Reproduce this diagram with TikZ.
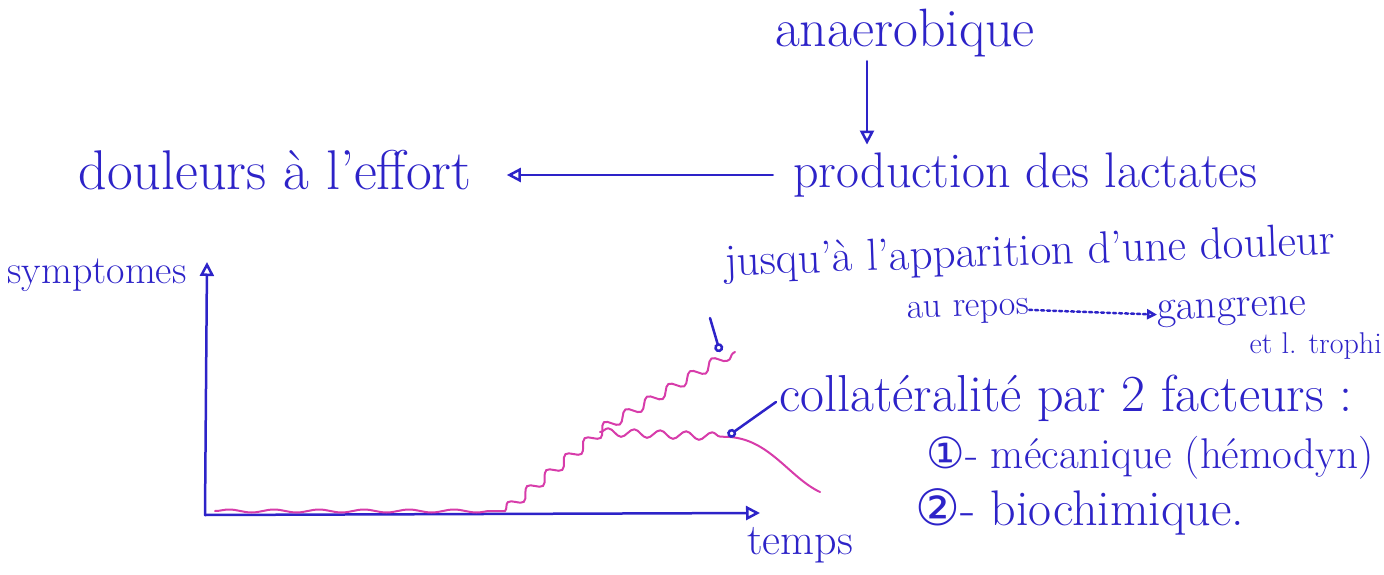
\documentclass[tikz,border=0pt]{standalone}
\usepackage{fontspec}
\newfontfamily\symfont{DejaVu Sans}
\usetikzlibrary{arrows.meta,decorations.pathmorphing}
\definecolor{stylo}{RGB}{45,35,200}
\definecolor{rose}{RGB}{215,60,170}
\tikzset{
  txt/.style={text=stylo, font=\fontsize{#1}{#1}\selectfont, inner sep=0pt},
  txt/.default=40,
  trait/.style={draw=stylo, line width=2.5pt, line cap=round},
  fleche/.style={trait, -{Triangle[open, length=14pt, width=14pt]}},
  repere/.style={trait, -{Circle[open, length=9pt]}},
  courbe/.style={draw=rose, line width=2pt, line cap=round},
}
\begin{document}
\begin{tikzpicture}[x=1pt,y=-1pt]
	\useasboundingbox (0,0) rectangle (1384,575);
	% Chaine du haut
	\node[txt=54] (anaer) at (905,33) {anaerobique};
	\node[txt=50] (prod) at (1025,175) {production des lactates};
	\node[txt=56] (doul) at (275,170) {douleurs à l'effort};
	\draw[fleche, shorten <=4pt, shorten >=8pt] (anaer.south -| 867,0) -- (prod.north -| 867,0);
	\draw[fleche, shorten <=20pt, shorten >=35pt] (prod.west) -- (doul.east |- prod.west);
	
	% Repere
	\coordinate (O) at (205,515);
	\coordinate (ytop) at (207,262);
	\coordinate (xend) at (760,513);
	\draw[fleche] (O) -- (ytop);
	\draw[fleche] (O) -- (xend);
	\node[txt] (sympt) at (97,275) {symptomes};
	\node[txt=44] (temps) at (800,545) {temps};
	
	% Courbes
	\coordinate (debut) at (215,511);
	\coordinate (depart) at (505,511);
	\coordinate (bif) at (600,432);
	\coordinate (pic) at (735,352);
	\coordinate (plateau) at (730,437);
	\coordinate (fin) at (820,492);
	\draw[courbe, decorate, decoration={snake, amplitude=1.5pt, segment length=45pt}] (debut) -- (depart);
	\draw[courbe, decorate, decoration={snake, amplitude=5pt, segment length=25pt}] (depart) -- (bif) -- (pic);
	\draw[courbe, decorate, decoration={snake, amplitude=4pt, segment length=26pt}] (bif) -- (plateau);
	\draw[courbe] (plateau) .. controls (770,440) and (790,478) .. (fin);
	
	% Annotations
	\node[txt=45, rotate=2] (jusqua) at (1030,254) {jusqu'à l'apparition d'une douleur};
	\node[txt=36, rotate=2] (repos) at (968,312) {au repos};
	\node[txt=42, rotate=2] (gang) at (1232,312) {gangrene};
	\node[txt=30, anchor=east] (troph) at (1382,346) {et l. trophi};
	\draw[trait, dashed, -{Triangle[open, length=10pt, width=10pt]}] (repos.east) -- (gang.west);
	\coordinate (l1) at (710,318);
	\coordinate (c1) at (720,352);
	\draw[repere] (l1) -- (c1);
	\node[txt=52] (collat) at (1066,398) {collatéralité par 2 facteurs :};
	\coordinate (l2) at (776,402);
	\coordinate (c2) at (728,436);
	\draw[repere] (l2) -- (c2);
	\node[txt=43] (meca) at (1150,458) {{\symfont ①}- mécanique (hémodyn)};
	\node[txt=50] (bioch) at (1080,512) {{\symfont ②}- biochimique.};
\end{tikzpicture}
\end{document}
